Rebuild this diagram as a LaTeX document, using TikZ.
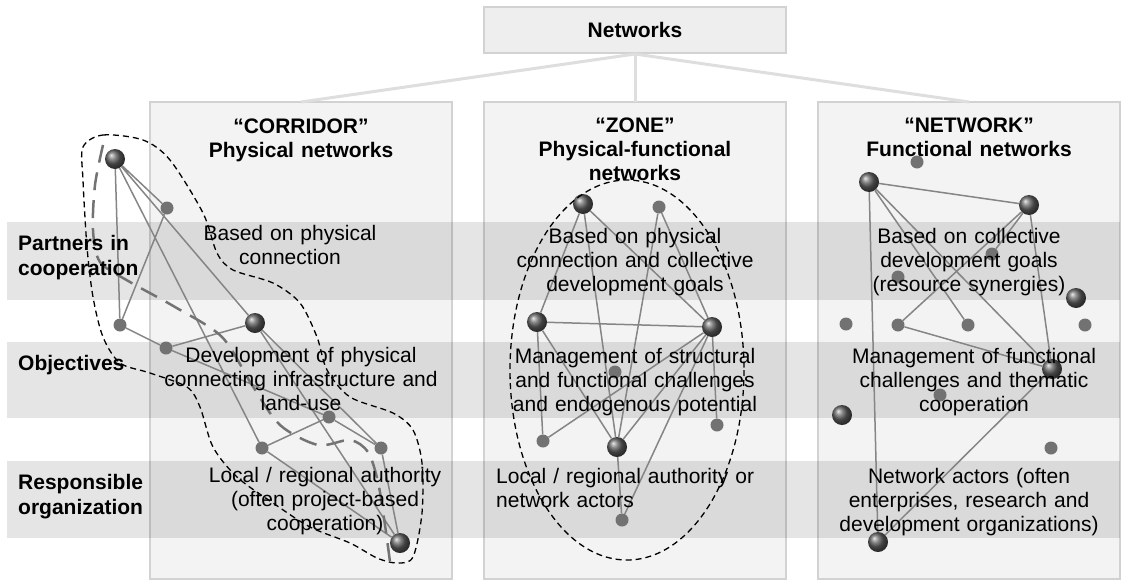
\documentclass[tikz,border=0pt]{standalone}
\usepackage{fontspec}
\setmainfont{Liberation Sans}
\usetikzlibrary{positioning, shapes.geometric}
\definecolor{colfill}{HTML}{F3F3F3}
\definecolor{coldraw}{HTML}{D2D2D2}
\definecolor{stemgray}{HTML}{DEDEDE}
\definecolor{topfill}{HTML}{EEEEEE}
\definecolor{linkgray}{HTML}{858585}
\definecolor{dotgray}{HTML}{727272}
\tikzstyle{every node}=[font=\fontsize{21}{24.4}\selectfont, inner sep=0pt]
\tikzstyle{column} = [rectangle, minimum width=302pt, minimum height=477pt, draw=coldraw, fill=colfill, line width=1.5pt, outer sep=0pt]
\tikzstyle{topbox} = [rectangle, minimum width=302pt, minimum height=46pt, draw=coldraw, fill=topfill, line width=2pt, font=\fontsize{21}{24.4}\selectfont\bfseries]
\tikzstyle{stem} = [stemgray, line width=3pt]
\tikzstyle{band} = [fill=black, fill opacity=0.1]
\tikzstyle{rowlabel} = [anchor=base west, text width=140pt, align=left, font=\fontsize{21}{25}\selectfont\bfseries]
\tikzstyle{title} = [anchor=base, text width=300pt, align=center, font=\fontsize{21}{24.4}\selectfont\bfseries]
\tikzstyle{cell} = [anchor=base, text width=300pt, align=center]
\tikzstyle{bigdot} = [circle, minimum size=20pt, ball color=gray!75!black]
\tikzstyle{smalldot} = [circle, minimum size=13pt, fill=dotgray]
\tikzstyle{link} = [linkgray, line width=1.5pt]
\tikzstyle{hull} = [black, line width=1.3pt, dash pattern=on 6pt off 4pt]
\tikzstyle{route} = [black!55, line width=2.5pt, dash pattern=on 18pt off 10pt]

\begin{document}
\begin{tikzpicture}[x=1pt, y=-1pt]
  \useasboundingbox (0,0) rectangle (1123,581);
  % columns and header
  \node (top) [topbox] at (635,30) {Networks};
  \node (col1) [column] at (301,340.5) {};
  \node (col2) [column, right=32pt of col1] {};
  \node (col3) [column, right=32pt of col2] {};
  \draw [stem] (top.south) -- (col1.north);
  \draw [stem] (top.south) -- (col2.north);
  \draw [stem] (top.south) -- (col3.north);
  % rows
  \fill [band] (7,222) rectangle (1120,300);
  \fill [band] (7,342) rectangle (1120,418);
  \fill [band] (7,461) rectangle (1120,538);

  % corridor
  \node (c1) [bigdot] at (115,159) {};
  \node (c2) [smalldot] at (167,208) {};
  \node (c3) [smalldot] at (120,325) {};
  \node (c4) [bigdot] at (255,323) {};
  \node (c5) [smalldot] at (166,348) {};
  \node (c6) [smalldot] at (329,417) {};
  \node (c7) [smalldot] at (262,448) {};
  \node (c8) [smalldot] at (381,448) {};
  \node (c9) [bigdot] at (400,543) {};
  \draw [link] (c1) -- (c2) (c1) -- (c3) (c1) -- (c4) (c1) -- (c7)
    (c2) -- (c3) (c3) -- (c5) (c5) -- (c4) (c5) -- (c6)
    (c4) -- (c8) (c4) -- (c9) (c6) -- (c7) (c6) -- (c8)
    (c7) -- (c9) (c8) -- (c9);
  \draw [route] plot [smooth] coordinates {(103,145) (95,185) (93,230) (100,262) (130,282) (175,307) (222,337) (252,385) (280,425) (318,445) (350,440) (368,452) (378,482) (385,525) (390,562)};
  \draw [hull] plot [smooth cycle] coordinates {(83,147) (103,135) (143,140) (170,160) (203,213) (217,253) (233,270) (273,283) (300,303) (317,337) (327,370) (350,397) (393,413) (413,430) (422,463) (422,513) (413,557) (397,563) (377,558) (350,543) (310,527) (273,503) (237,477) (213,447) (200,407) (187,387) (150,373) (120,363) (103,337) (93,297) (87,247) (83,180)};

  % zone
  \node (z1) [bigdot] at (583,204) {};
  \node (z2) [smalldot] at (659,207) {};
  \node (z3) [bigdot] at (537,322) {};
  \node (z4) [bigdot] at (712,327) {};
  \node (z5) [smalldot] at (615,372) {};
  \node (z6) [smalldot] at (717,425) {};
  \node (z7) [smalldot] at (543,441) {};
  \node (z8) [bigdot] at (617,447) {};
  \node (z9) [smalldot] at (622,520) {};
  \draw [link] (z1) -- (z3) (z1) -- (z4) (z1) -- (z8) (z2) -- (z4)
    (z2) -- (z8) (z3) -- (z4) (z3) -- (z7) (z3) -- (z8)
    (z7) -- (z4) (z4) -- (z8) (z4) -- (z6) (z4) -- (z9) (z8) -- (z9);
  \draw [hull] (627,370) ellipse [x radius=117, y radius=190];

  % network
  \node (n1) [bigdot] at (869,182) {};
  \node (n2) [smalldot] at (917,162) {};
  \node (n3) [bigdot] at (1029,205) {};
  \node (n4) [smalldot] at (992,254) {};
  \node (n5) [smalldot] at (898,277) {};
  \node (n6) [bigdot] at (1076,298) {};
  \node (n7) [smalldot] at (846,324) {};
  \node (n8) [smalldot] at (898,325) {};
  \node (n9) [smalldot] at (968,325) {};
  \node (n10) [smalldot] at (1085,325) {};
  \node (n11) [bigdot] at (1052,369) {};
  \node (n12) [smalldot] at (940,395) {};
  \node (n13) [bigdot] at (842,415) {};
  \node (n14) [smalldot] at (1051,448) {};
  \node (n15) [bigdot] at (878,542) {};
  \draw [link] (n1) -- (n3) (n1) -- (n9) (n1) -- (n11) (n1) -- (n15)
    (n3) -- (n4) (n3) -- (n8) (n3) -- (n11) (n8) -- (n11) (n11) -- (n15);

  % texts
  \node (lab1) [rowlabel] at (18,250) {Partners in\\cooperation};
  \node (lab2) [rowlabel] at (18,370) {Objectives};
  \node (lab3) [rowlabel] at (18,489) {Responsible\\organization};
  \node (head1) [title] at (301,133) {“CORRIDOR”\\Physical networks};
  \node (head2) [title] at (635,132) {“ZONE”\\Physical-functional\\networks};
  \node (head3) [title] at (969,132) {“NETWORK”\\Functional networks};
  \node (part1) [cell] at (290,240) {Based on physical\\connection};
  \node (obj1) [cell] at (301,362) {Development of physical\\connecting infrastructure and\\land-use};
  \node (resp1) [cell] at (325,482) {Local / regional authority\\(often project-based\\cooperation)};
  \node (part2) [cell] at (635,243) {Based on physical\\connection and collective\\development goals};
  \node (obj2) [cell] at (635,363) {Management of structural\\and functional challenges\\and endogenous potential};
  \node (resp2) [cell, anchor=base west, align=left] at (496,483) {Local / regional authority or\\network actors};
  \node (part3) [cell] at (969,243) {Based on collective\\development goals\\(resource synergies)};
  \node (obj3) [cell] at (974,363) {Management of functional\\challenges and thematic\\cooperation};
  \node (resp3) [cell] at (969,483) {Network actors (often\\enterprises, research and\\development organizations)};
\end{tikzpicture}
\end{document}
